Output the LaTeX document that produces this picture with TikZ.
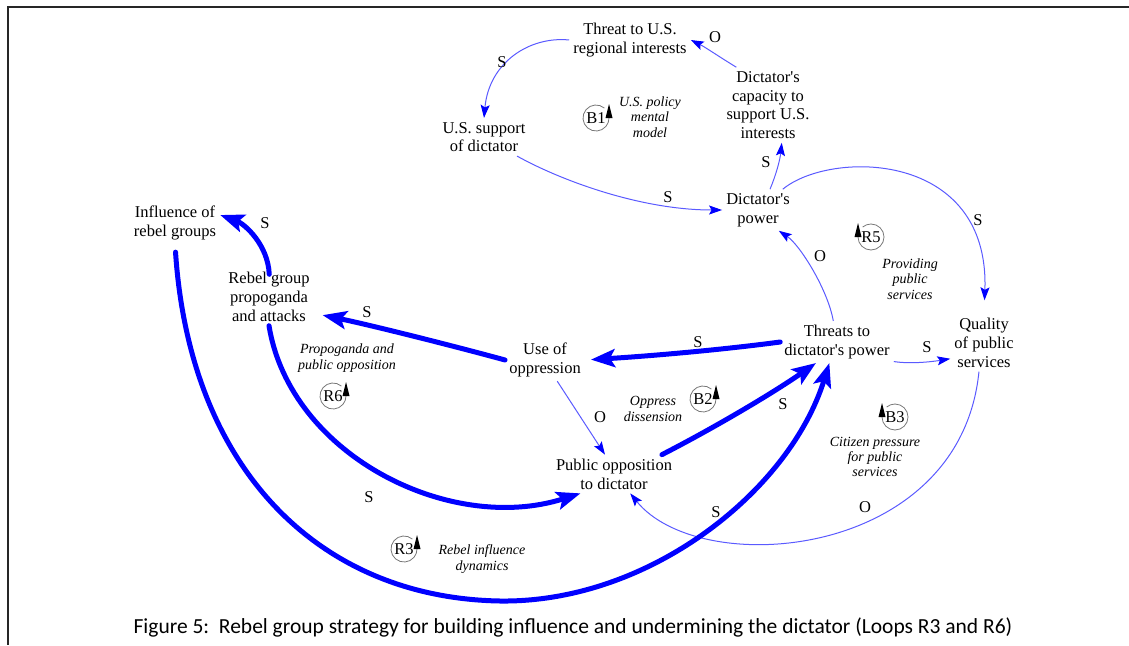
\documentclass[tikz,border=0pt]{standalone}
\usepackage{fontspec}
\setmainfont{Liberation Serif}[Ligatures=TeXOff]
\newfontfamily\capfont{Carlito}
\usetikzlibrary{arrows.meta}
\definecolor{linkblue}{RGB}{90,90,255}
\definecolor{ringgray}{RGB}{120,120,120}
\newcommand\varfont{\fontsize{16.5}{18.7}\selectfont}
\newcommand\loopfont{\fontsize{14}{15.4}\selectfont\itshape}
% loop marker: name, position, label, side of the arrowhead (1 right, -1 left)
\newcommand\loopsym[4]{%
  \node[loopname] (#1) at (#2) {#3};
  \ifnum#4>0
    \draw[loopring] ([shift={(50:13)}]#1.center) arc[start angle=50,end angle=360,radius=13];
  \else
    \draw[loopring] ([shift={(180:13)}]#1.center) arc[start angle=180,end angle=490,radius=13];
  \fi
  \fill[black] ([shift={(#4*13-3.5,0)}]#1.center) -- ++(3.5,14) -- ++(3.5,-14) -- cycle;
}
\begin{document}
\begin{tikzpicture}[x=1pt,y=1pt,
  var/.style={align=center,font=\varfont,inner sep=4pt},
  pol/.style={font=\varfont,inner sep=0pt},
  looptext/.style={align=center,font=\loopfont,inner sep=0pt},
  loopname/.style={font=\varfont,inner sep=0pt},
  loopring/.style={draw=ringgray,line width=0.8pt},
  thinlink/.style={draw=linkblue,line width=1pt,-{Stealth[length=13pt,width=9pt,inset=2.5pt,color=blue]}},
  thicklink/.style={draw=blue,line width=5pt,line cap=round,-{Stealth[length=24pt,width=18pt,inset=5pt]}},
]
\useasboundingbox (0,0) rectangle (1129,-645);
\draw[line width=2pt,black!85] (1129,-7) -- (8,-7) -- (8,-645);

% variables
\node[var] (threat)  at (630,-40)  {Threat to U.S.\\regional interests};
\node[var] (usup)    at (484,-137) {U.S. support\\of dictator};
\node[var] (cap)     at (768,-105) {Dictator's\\capacity to\\support U.S.\\interests};
\node[var] (dpow)    at (758,-210) {Dictator's\\power};
\node[var] (infl)    at (175,-223) {Influence of\\rebel groups};
\node[var] (rebel)   at (269,-297) {Rebel group\\propoganda\\and attacks};
\node[var] (useop)   at (545,-360) {Use of\\oppression};
\node[var] (threats) at (837,-342) {Threats to\\dictator's power};
\node[var] (quality) at (984,-343) {Quality\\of public\\services};
\node[var] (pubop)   at (614,-474) {Public opposition\\to dictator};

% thin links
\draw[thinlink] (threat.west) .. controls (530,-36) and (489,-62) .. (usup.north);
\draw[thinlink] (cap.130) .. controls (718,-56) and (705,-47) .. (threat.east);
\draw[thinlink] (dpow.60) .. controls (776,-175) and (780,-160) .. (cap.-70);
\draw[thinlink] (usup.-30) .. controls (560,-180) and (640,-210) .. (dpow.west);
\draw[thinlink,shorten >=14pt] (dpow.40) .. controls (830,-150) and (990,-150) .. (quality.north);
\draw[thinlink] (threats.100) .. controls (828,-290) and (800,-245) .. (dpow.-45);
\draw[thinlink] (useop.-60) -- (pubop.115);
\draw[thinlink] (threats.-19) .. controls (910,-364) and (930,-362) .. (quality.205);
\draw[thinlink] (quality.-100) .. controls (960,-560) and (700,-580) .. (pubop.-50);

% thick links
\draw[thicklink,shorten <=-6pt] (rebel.north) .. controls (268,-245) and (245,-224) .. (infl.10);
\draw[thicklink,shorten >=9pt] (useop.west) .. controls (450,-345) and (370,-325) .. (rebel.-20);
\draw[thicklink,shorten >=6pt] (threats.west) .. controls (720,-350) and (650,-356) .. (useop.east);
\draw[thicklink] (pubop.22) .. controls (710,-430) and (770,-395) .. (threats.-135);
\draw[thicklink] (rebel.south) .. controls (290,-455) and (450,-535) .. (pubop.-150);
\draw[thicklink,shorten <=8pt] (infl.south) .. controls (190,-470) and (320,-598) .. (500,-601)
   .. controls (650,-603) and (790,-490) .. (threats.-110);

% polarities
\node[pol] (p1)  at (502,-62)  {S};
\node[pol] (p2)  at (715,-37)  {O};
\node[pol] (p3)  at (766,-162) {S};
\node[pol] (p4)  at (668,-197) {S};
\node[pol] (p5)  at (978,-220) {S};
\node[pol] (p6)  at (820,-256) {O};
\node[pol] (p7)  at (265,-223) {S};
\node[pol] (p8)  at (367,-312) {S};
\node[pol] (p9)  at (698,-342) {S};
\node[pol] (p10) at (927,-347) {S};
\node[pol] (p11) at (600,-417) {O};
\node[pol] (p12) at (783,-404) {S};
\node[pol] (p13) at (369,-497) {S};
\node[pol] (p14) at (865,-507) {O};
\node[pol] (p15) at (716,-512) {S};

% loop markers and names
\loopsym{b1}{596,-118}{B1}{1}
\loopsym{r5}{871,-237}{R5}{-1}
\loopsym{r6}{333,-396}{R6}{1}
\loopsym{b2}{703,-399}{B2}{1}
\loopsym{b3}{895,-417}{B3}{-1}
\loopsym{r3}{404,-549}{R3}{1}
\node[looptext] (lb1) at (650,-117) {U.S. policy\\mental\\model};
\node[looptext] (lr5) at (910,-279) {Providing\\public\\services};
\node[looptext] (lr6) at (347,-358) {Propoganda and\\public opposition};
\node[looptext] (lb2) at (653,-409) {Oppress\\dissension};
\node[looptext] (lb3) at (875,-457) {Citizen pressure\\for public\\services};
\node[looptext] (lr3) at (482,-559) {Rebel influence\\dynamics};

% caption
\node[font=\capfont\fontsize{21.5}{25}\selectfont,anchor=base,inner sep=0pt] (caption) at (573,-633)
  {Figure 5:\ \ Rebel group strategy for building influence and undermining the dictator (Loops R3 and R6)};
\end{tikzpicture}
\end{document}
